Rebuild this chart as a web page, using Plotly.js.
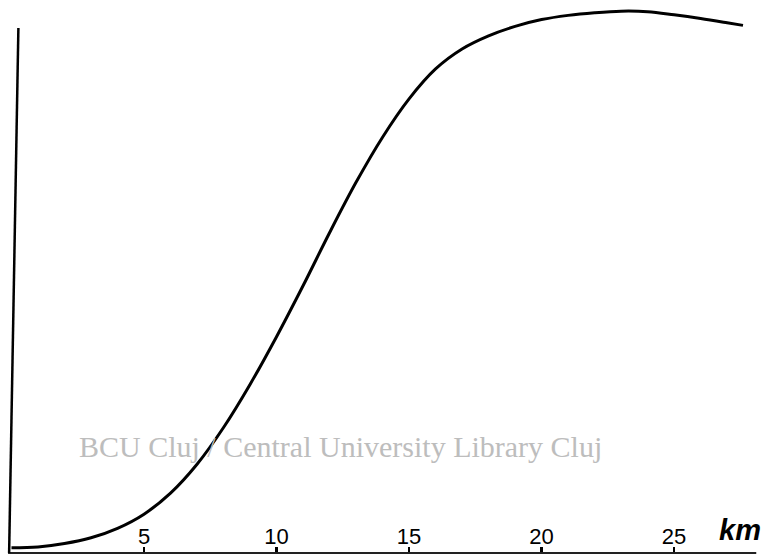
<!DOCTYPE html>
<html>
<head>
<meta charset="utf-8">
<script src="https://cdn.plot.ly/plotly-3.0.1.min.js"></script>
<style>html,body{margin:0;padding:0;background:#fff}#chart{width:765px;height:557px}</style>
</head>
<body>
<div id="chart"></div>
<script>
// distance in km
const distanceKm = [0, 1, 2, 3, 4, 5, 6, 7, 8, 9, 10, 11, 12, 13, 14, 15, 16, 17, 18, 19, 20, 21, 22, 23, 24, 25, 26, 27, 27.6];
// curve value (relative units, vertical axis top = 100)
const curveValue = [1.0, 1.15, 1.8, 2.9, 4.7, 7.4, 11.4, 16.9, 23.9, 32.1, 41.2, 50.9, 61.0, 70.6, 79.2, 86.5, 92.2, 96.0, 98.5, 100.3, 101.6, 102.4, 102.9, 103.2, 103.1, 102.5, 101.8, 101.0, 100.5];
const tickValues = [5, 10, 15, 20, 25];
const tickLabels = ['5', '10', '15', '20', '25'];
const unitLabel = 'km';
const watermark = 'BCU Cluj / Central University Library Cluj';

const trace = {
  x: distanceKm,
  y: curveValue,
  type: 'scatter',
  mode: 'lines',
  line: {color: '#000', width: 3, shape: 'spline', smoothing: 1},
  hoverinfo: 'skip'
};

const layout = {
  width: 765,
  height: 557,
  margin: {l: 0, r: 0, t: 0, b: 0},
  paper_bgcolor: '#fff',
  plot_bgcolor: '#fff',
  showlegend: false,
  xaxis: {
    range: [-0.434, 28.43],
    anchor: 'free',
    position: 0.0072,
    showgrid: false,
    zeroline: false,
    showline: false,
    ticks: 'inside',
    ticklen: 6,
    tickwidth: 2.5,
    tickcolor: '#000',
    tickvals: tickValues,
    ticktext: tickLabels,
    ticklabelposition: 'inside',
    tickfont: {family: 'Liberation Sans, Arial, sans-serif', size: 22, color: '#000'}
  },
  yaxis: {
    range: [-0.762, 105.33],
    visible: false,
    showgrid: false,
    zeroline: false
  },
  shapes: [
    // horizontal baseline
    {type: 'line', xref: 'x', yref: 'y', x0: -0.13, x1: 28.1, y0: 0, y1: 0,
     line: {color: '#222', width: 2}},
    // vertical axis (slightly tilted as on the scan)
    {type: 'line', xref: 'x', yref: 'y', x0: -0.09, x1: 0.26, y0: 0, y1: 100,
     line: {color: '#000', width: 2.5}}
  ],
  annotations: [
    {text: '<b><i>' + unitLabel + '</i></b>', xref: 'x', yref: 'y', x: 27.5, y: 4.3,
     xanchor: 'center', yanchor: 'middle', showarrow: false,
     font: {family: 'Liberation Sans, Arial, sans-serif', size: 29, color: '#000'}},
    {text: watermark, xref: 'paper', yref: 'paper', x: 77 / 765, y: (557 - 446) / 557,
     xanchor: 'left', yanchor: 'middle', showarrow: false,
     font: {family: 'Liberation Serif, Times New Roman, serif', size: 30, color: '#bdbdbd'}}
  ]
};

Plotly.newPlot('chart', [trace], layout, {staticPlot: true, displayModeBar: false});
</script>
</body>
</html>
